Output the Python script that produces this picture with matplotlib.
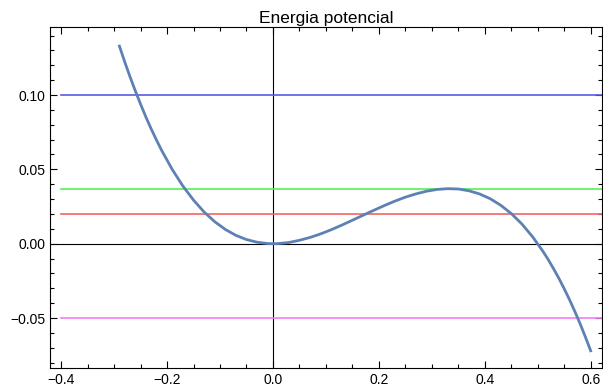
import matplotlib
matplotlib.use("Agg")
import matplotlib.pyplot as plt
from matplotlib.ticker import MultipleLocator

plt.rcParams['font.family'] = ['Liberation Sans', 'DejaVu Sans']

# potential energy curve
x_vals = [-0.29, -0.28, -0.27, -0.26, -0.25, -0.24, -0.23, -0.22, -0.21, -0.19, -0.17, -0.15, -0.13, -0.11,
          -0.09, -0.07, -0.05, -0.03, -0.01, 0.0, 0.01, 0.03, 0.05, 0.07,
          0.09, 0.11, 0.13, 0.15, 0.17, 0.19, 0.21, 0.23, 0.25, 0.27,
          0.29, 0.31, 0.33, 0.35, 0.37, 0.39, 0.41, 0.43, 0.45, 0.47,
          0.49, 0.51, 0.52, 0.53, 0.54, 0.55, 0.56, 0.57, 0.58, 0.59, 0.60]
v_vals = [0.1329, 0.1223, 0.1123, 0.1028, 0.0938, 0.0852, 0.0772, 0.0697, 0.0626, 0.0498, 0.0387, 0.0293, 0.0213, 0.0148,
          0.0096, 0.0056, 0.0028, 0.0010, 0.0001, 0.0, 0.0001, 0.0008, 0.0023, 0.0042,
          0.0066, 0.0094, 0.0125, 0.0158, 0.0191, 0.0224, 0.0256, 0.0286, 0.0313, 0.0335,
          0.0353, 0.0365, 0.0370, 0.0368, 0.0356, 0.0335, 0.0303, 0.0259, 0.0203, 0.0133,
          0.0048, -0.0052, -0.0108, -0.0169, -0.0233, -0.0303, -0.0376, -0.0455, -0.0538, -0.0627, -0.0720]

# energy levels
levels = [0.10, 0.037, 0.02, -0.05]
level_colors = ['#5a5ae6', '#55f055', '#f56464', '#f57df5']

title = "Energia potencial"

fig = plt.figure(figsize=(6.03, 3.9), dpi=100)
ax = fig.add_axes([0.083, 0.056, 0.915, 0.875])

xmin, xmax = -0.421, 0.621
ax.set_xlim(xmin, xmax)
ax.set_ylim(-0.0837, 0.1458)

for lev, col in zip(levels, level_colors):
    ax.plot([-0.4, xmax], [lev, lev], color=col, lw=1.2, zorder=2)

ax.axhline(0, color='black', lw=0.8, zorder=1)
ax.axvline(0, color='black', lw=0.8, zorder=1)

ax.plot(x_vals, v_vals, color='#5e81b5', lw=2.0, zorder=3)

ax.set_title(title, fontsize=12.5, pad=3)

ax.xaxis.set_major_locator(MultipleLocator(0.2))
ax.xaxis.set_minor_locator(MultipleLocator(0.05))
ax.yaxis.set_major_locator(MultipleLocator(0.05))
ax.yaxis.set_minor_locator(MultipleLocator(0.01))
ax.xaxis.set_major_formatter(plt.FuncFormatter(lambda v, p: f"{v:.1f}".replace('-', '\u2212')))
ax.yaxis.set_major_formatter(plt.FuncFormatter(lambda v, p: f"{v:.2f}".replace('-', '\u2212')))
ax.tick_params(which='both', direction='in', top=True, right=True, labelsize=10, width=0.8)
ax.tick_params(which='major', length=5)
ax.tick_params(which='minor', length=3)
for s in ax.spines.values():
    s.set_linewidth(0.8)

fig.savefig("out.png", dpi=100)
